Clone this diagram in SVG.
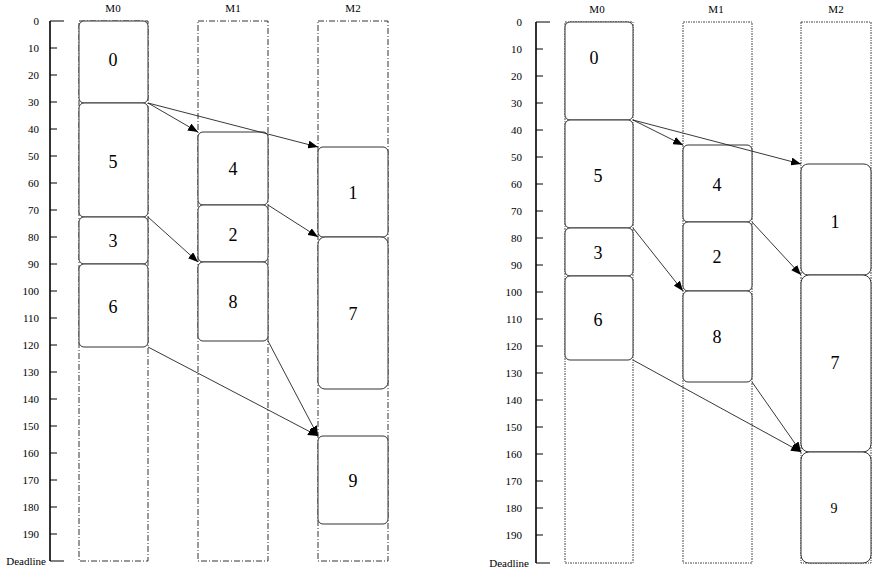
<svg xmlns="http://www.w3.org/2000/svg" width="872" height="570" viewBox="0 0 872 570">
<style>
text{font-family:"Liberation Serif","Times New Roman",serif;fill:#000}
.ax{font-size:11px;text-anchor:end}
.hd{font-size:11px;text-anchor:middle}
.tl{font-size:18px;text-anchor:middle}
.axis{stroke:#000;stroke-width:1.6;fill:none}
.tick{stroke:#000;stroke-width:1;fill:none}
.colA{fill:none;stroke:#333;stroke-width:1;stroke-dasharray:6,2,1,2}
.colB{fill:none;stroke:#444;stroke-width:1;stroke-dasharray:2,1,1,1}
.task{fill:#fff;stroke:#333;stroke-width:1}
.con{stroke:#222;stroke-width:0.9;fill:none;marker-end:url(#ah)}
</style>
<defs>
<marker id="ah" markerWidth="10" markerHeight="8" refX="10" refY="4" orient="auto" markerUnits="userSpaceOnUse">
<path d="M0,0 L10,4 L0,8 z" fill="#000"/>
</marker>
</defs>

<!-- LEFT DIAGRAM -->
<g id="axisL">
<line class="axis" x1="50" y1="21" x2="50" y2="561"/>
<line class="tick" x1="50" y1="21" x2="64" y2="21"/>
<line class="tick" x1="50" y1="561" x2="64" y2="561"/>
<g class="tick">
<line x1="50" y1="48" x2="57" y2="48"/><line x1="50" y1="75" x2="57" y2="75"/><line x1="50" y1="102" x2="57" y2="102"/><line x1="50" y1="129" x2="57" y2="129"/><line x1="50" y1="156" x2="57" y2="156"/><line x1="50" y1="183" x2="57" y2="183"/><line x1="50" y1="210" x2="57" y2="210"/><line x1="50" y1="237" x2="57" y2="237"/><line x1="50" y1="264" x2="57" y2="264"/><line x1="50" y1="291" x2="57" y2="291"/><line x1="50" y1="318" x2="57" y2="318"/><line x1="50" y1="345" x2="57" y2="345"/><line x1="50" y1="372" x2="57" y2="372"/><line x1="50" y1="399" x2="57" y2="399"/><line x1="50" y1="426" x2="57" y2="426"/><line x1="50" y1="453" x2="57" y2="453"/><line x1="50" y1="480" x2="57" y2="480"/><line x1="50" y1="507" x2="57" y2="507"/><line x1="50" y1="534" x2="57" y2="534"/>
</g>
<text class="ax" x="39" y="25">0</text><text class="ax" x="39" y="52">10</text><text class="ax" x="39" y="79">20</text><text class="ax" x="39" y="106">30</text><text class="ax" x="39" y="133">40</text><text class="ax" x="39" y="160">50</text><text class="ax" x="39" y="187">60</text><text class="ax" x="39" y="214">70</text><text class="ax" x="39" y="241">80</text><text class="ax" x="39" y="268">90</text><text class="ax" x="39" y="295">100</text><text class="ax" x="39" y="322">110</text><text class="ax" x="39" y="349">120</text><text class="ax" x="39" y="376">130</text><text class="ax" x="39" y="403">140</text><text class="ax" x="39" y="430">150</text><text class="ax" x="39" y="457">160</text><text class="ax" x="39" y="484">170</text><text class="ax" x="39" y="511">180</text><text class="ax" x="39" y="538">190</text><text class="ax" x="46" y="565">Deadline</text>
</g>
<g id="colL-M0"><rect class="colA" x="79" y="21" width="69" height="540"/><text class="hd" x="113" y="12">M0</text></g>
<g id="colL-M1"><rect class="colA" x="198" y="21" width="70" height="540"/><text class="hd" x="233" y="12">M1</text></g>
<g id="colL-M2"><rect class="colA" x="318" y="21" width="70" height="540"/><text class="hd" x="353" y="12">M2</text></g>

<g id="L0"><rect class="task" x="79" y="21" width="69" height="82" rx="5"/><text class="tl" x="113" y="66">0</text></g>
<g id="L5"><rect class="task" x="79" y="103" width="69" height="114" rx="5"/><text class="tl" x="113" y="168">5</text></g>
<g id="L3"><rect class="task" x="79" y="217" width="69" height="47" rx="5"/><text class="tl" x="113" y="247">3</text></g>
<g id="L6"><rect class="task" x="79" y="264" width="69" height="83" rx="5"/><text class="tl" x="113" y="313">6</text></g>
<g id="L4"><rect class="task" x="198" y="132" width="70" height="73" rx="5"/><text class="tl" x="233" y="175">4</text></g>
<g id="L2"><rect class="task" x="198" y="205" width="70" height="57" rx="5"/><text class="tl" x="233" y="241">2</text></g>
<g id="L8"><rect class="task" x="198" y="262" width="70" height="79" rx="5"/><text class="tl" x="233" y="308">8</text></g>
<g id="L1"><rect class="task" x="318" y="147" width="70" height="90" rx="5"/><text class="tl" x="353" y="199">1</text></g>
<g id="L7"><rect class="task" x="318" y="237" width="70" height="152" rx="7"/><text class="tl" x="353" y="320">7</text></g>
<g id="L9"><rect class="task" x="318" y="436" width="70" height="88" rx="5"/><text class="tl" x="353" y="487">9</text></g>

<!-- RIGHT DIAGRAM -->
<g id="axisR">
<line class="axis" x1="536" y1="22" x2="536" y2="563"/>
<line class="tick" x1="536" y1="22" x2="550" y2="22"/>
<line class="tick" x1="536" y1="563" x2="550" y2="563"/>
<g class="tick">
<line x1="536" y1="49" x2="543" y2="49"/><line x1="536" y1="76" x2="543" y2="76"/><line x1="536" y1="103" x2="543" y2="103"/><line x1="536" y1="130" x2="543" y2="130"/><line x1="536" y1="157" x2="543" y2="157"/><line x1="536" y1="184" x2="543" y2="184"/><line x1="536" y1="211" x2="543" y2="211"/><line x1="536" y1="238" x2="543" y2="238"/><line x1="536" y1="265" x2="543" y2="265"/><line x1="536" y1="292" x2="543" y2="292"/><line x1="536" y1="319" x2="543" y2="319"/><line x1="536" y1="346" x2="543" y2="346"/><line x1="536" y1="373" x2="543" y2="373"/><line x1="536" y1="400" x2="543" y2="400"/><line x1="536" y1="427" x2="543" y2="427"/><line x1="536" y1="454" x2="543" y2="454"/><line x1="536" y1="481" x2="543" y2="481"/><line x1="536" y1="508" x2="543" y2="508"/><line x1="536" y1="535" x2="543" y2="535"/>
</g>
<text class="ax" x="522" y="26">0</text><text class="ax" x="522" y="53">10</text><text class="ax" x="522" y="80">20</text><text class="ax" x="522" y="107">30</text><text class="ax" x="522" y="134">40</text><text class="ax" x="522" y="161">50</text><text class="ax" x="522" y="188">60</text><text class="ax" x="522" y="215">70</text><text class="ax" x="522" y="242">80</text><text class="ax" x="522" y="269">90</text><text class="ax" x="522" y="296">100</text><text class="ax" x="522" y="323">110</text><text class="ax" x="522" y="350">120</text><text class="ax" x="522" y="377">130</text><text class="ax" x="522" y="404">140</text><text class="ax" x="522" y="431">150</text><text class="ax" x="522" y="458">160</text><text class="ax" x="522" y="485">170</text><text class="ax" x="522" y="512">180</text><text class="ax" x="522" y="539">190</text><text class="ax" x="529" y="567">Deadline</text>
</g>
<g id="colR-M0"><rect class="colB" x="565" y="22" width="68" height="541"/><text class="hd" x="597" y="13">M0</text></g>
<g id="colR-M1"><rect class="colB" x="683" y="22" width="69" height="541"/><text class="hd" x="716" y="13">M1</text></g>
<g id="colR-M2"><rect class="colB" x="801" y="22" width="70" height="541"/><text class="hd" x="836" y="13">M2</text></g>

<g id="R0"><rect class="task" x="565" y="22" width="68" height="98" rx="5"/><text class="tl" x="594" y="64">0</text></g>
<g id="R5"><rect class="task" x="565" y="120" width="68" height="108" rx="5"/><text class="tl" x="598" y="182">5</text></g>
<g id="R3"><rect class="task" x="565" y="228" width="68" height="48" rx="5"/><text class="tl" x="598" y="259">3</text></g>
<g id="R6"><rect class="task" x="565" y="276" width="68" height="84" rx="5"/><text class="tl" x="598" y="326">6</text></g>
<g id="R4"><rect class="task" x="683" y="145" width="69" height="77" rx="5"/><text class="tl" x="717" y="191">4</text></g>
<g id="R2"><rect class="task" x="683" y="222" width="69" height="69" rx="5"/><text class="tl" x="717" y="263">2</text></g>
<g id="R8"><rect class="task" x="683" y="291" width="69" height="91" rx="5"/><text class="tl" x="717" y="343">8</text></g>
<g id="R1"><rect class="task" x="801" y="164" width="70" height="111" rx="7"/><text class="tl" x="835" y="228">1</text></g>
<g id="R7"><rect class="task" x="801" y="275" width="70" height="177" rx="8"/><text class="tl" x="835" y="369">7</text></g>
<g id="R9"><rect class="task" x="801" y="452" width="70" height="111" rx="8"/><text x="834" y="513" style="font-size:14px;text-anchor:middle">9</text></g>

<g id="connectors">
<line class="con" x1="148" y1="103" x2="198" y2="132"/>
<line class="con" x1="148" y1="103" x2="318" y2="147"/>
<line class="con" x1="268" y1="205" x2="318" y2="237"/>
<line class="con" x1="148" y1="217" x2="198" y2="262"/>
<line class="con" x1="148" y1="347" x2="318" y2="436"/>
<line class="con" x1="268" y1="341" x2="318" y2="436"/>
<line class="con" x1="633" y1="120" x2="683" y2="145"/>
<line class="con" x1="633" y1="120" x2="801" y2="164"/>
<line class="con" x1="752" y1="222" x2="801" y2="275"/>
<line class="con" x1="633" y1="228" x2="683" y2="291"/>
<line class="con" x1="633" y1="360" x2="801" y2="452"/>
<line class="con" x1="752" y1="382" x2="801" y2="452"/>
</g>
</svg>
